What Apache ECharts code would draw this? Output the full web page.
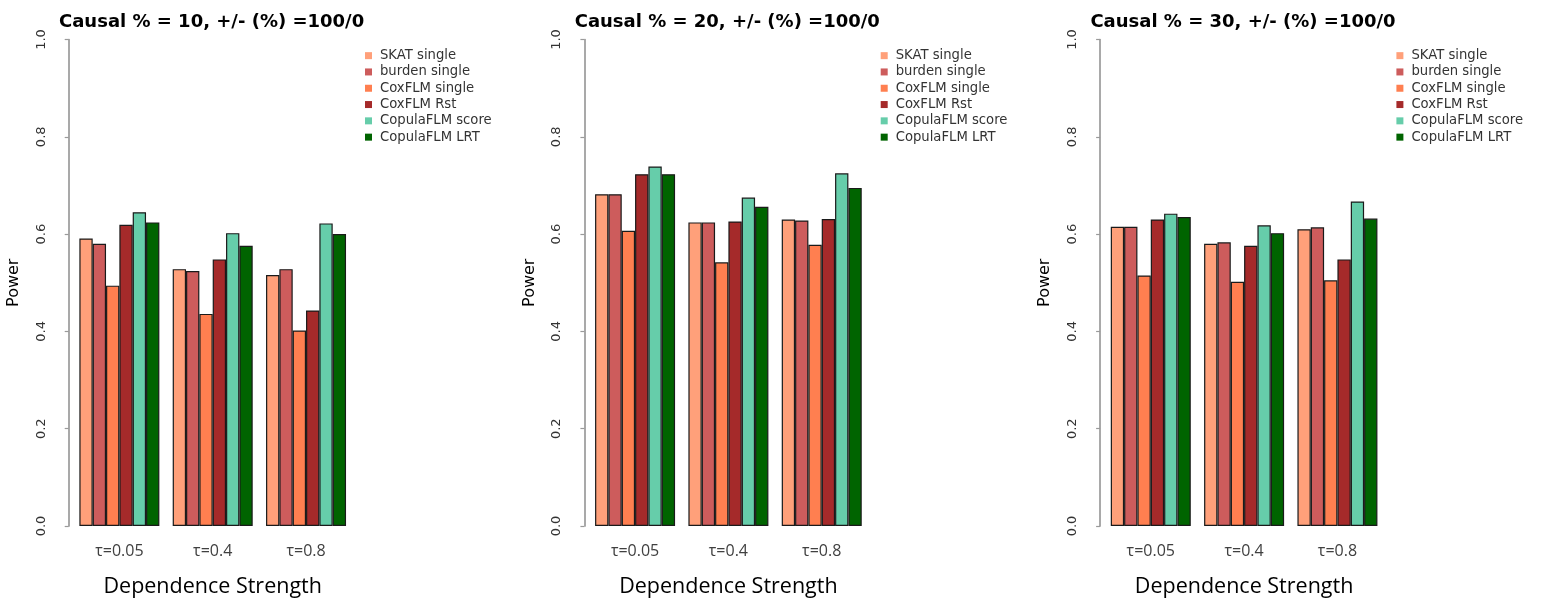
<!DOCTYPE html>
<html>
<head>
<meta charset="utf-8">
<script src="https://cdn.jsdelivr.net/npm/echarts@6/dist/echarts.min.js"></script>
<style>
  html, body { margin: 0; padding: 0; background: #fff; }
  #chart { width: 1543px; height: 604px; }
</style>
</head>
<body>
<div id="chart"></div>
<script>
// 数据
var methods = ['SKAT single', 'burden single', 'CoxFLM single', 'CoxFLM Rst', 'CopulaFLM score', 'CopulaFLM LRT'];
var colors = ['#FFA07A', '#CD5C5C', '#FF7F50', '#A52A2A', '#66CDAA', '#006400'];
var taus = ['τ=0.05', 'τ=0.4', 'τ=0.8'];
var causal = [10, 20, 30];
var yTicks = [0, 0.2, 0.4, 0.6, 0.8, 1.0];

// 每行一个方法, 三个值对应 taus
var power10 = [
    [0.591, 0.528, 0.516],
    [0.580, 0.524, 0.528],
    [0.494, 0.436, 0.402],
    [0.619, 0.548, 0.443],
    [0.645, 0.602, 0.622],
    [0.624, 0.576, 0.600]
];
var power20 = [
    [0.682, 0.624, 0.630],
    [0.682, 0.624, 0.628],
    [0.607, 0.542, 0.578],
    [0.723, 0.626, 0.631],
    [0.739, 0.675, 0.725],
    [0.723, 0.656, 0.695]
];
var power30 = [
    [0.615, 0.580, 0.610],
    [0.615, 0.583, 0.614],
    [0.515, 0.502, 0.505],
    [0.630, 0.576, 0.548],
    [0.642, 0.618, 0.667],
    [0.635, 0.602, 0.632]
];
var powers = [power10, power20, power30];

function drawPowerChart() {
    var dom = document.getElementById('chart');
    var myChart = echarts.init(dom, null, { renderer: 'canvas' });

    var step = 515.7;
    var grids = [], xAxes = [], yAxes = [], titles = [], legends = [], series = [];

    for (var p = 0; p < 3; p++) {
        grids.push({
            left: 72.7 + step * p,
            top: 39.5,
            width: 280,
            height: 486.5
        });
        titles.push({
            text: 'Causal % = ' + causal[p] + ', +/- (%) =100/0',
            left: 59 + step * p,
            top: 13,
            padding: 0,
            textStyle: {
                fontFamily: 'DejaVu Sans',
                fontWeight: 'bold',
                fontSize: 18,
                color: '#000'
            }
        });
        legends.push({
            data: methods,
            orient: 'vertical',
            left: 365 + step * p,
            top: 47.5,
            padding: 0,
            itemGap: 0,
            itemWidth: 7,
            itemHeight: 7,
            icon: 'rect',
            itemStyle: { borderWidth: 0 },
            textStyle: {
                fontFamily: 'DejaVu Sans',
                fontSize: 13.2,
                color: '#333',
                lineHeight: 16.3,
                padding: [0, 0, 0, 3]
            }
        });
        xAxes.push({
            type: 'category',
            gridIndex: p,
            data: taus,
            axisLine: { show: false },
            axisTick: { show: false },
            axisLabel: {
                margin: 17,
                fontFamily: 'Open Sans',
                fontSize: 16,
                color: '#404040'
            },
            name: 'Dependence Strength',
            nameLocation: 'middle',
            nameGap: 50,
            nameTextStyle: {
                fontFamily: 'Open Sans',
                fontSize: 21.5,
                color: '#000'
            }
        });
        yAxes.push({
            type: 'value',
            gridIndex: p,
            min: 0,
            max: 1,
            interval: 0.2,
            offset: 4,
            splitLine: { show: false },
            axisLine: { show: true, lineStyle: { color: '#9a9a9a', width: 1.7 } },
            axisTick: { show: true, length: 4, lineStyle: { color: '#9a9a9a', width: 1.2 } },
            axisLabel: {
                rotate: 90,
                margin: 21,
                fontFamily: 'DejaVu Sans',
                fontSize: 13,
                color: '#333',
                formatter: function (v) { return v.toFixed(1); }
            },
            name: 'Power',
            nameLocation: 'middle',
            nameGap: 47,
            nameTextStyle: {
                fontFamily: 'DejaVu Sans',
                fontSize: 16,
                color: '#000'
            }
        });
        for (var m = 0; m < methods.length; m++) {
            series.push({
                type: 'bar',
                name: methods[m],
                xAxisIndex: p,
                yAxisIndex: p,
                barGap: '0%',
                barCategoryGap: (100 / 7) + '%',
                data: powers[p][m],
                itemStyle: {
                    color: colors[m],
                    borderColor: '#1a1a1a',
                    borderWidth: 1.2
                },
                emphasis: { disabled: true }
            });
        }
    }

    var option = {
        backgroundColor: '#fff',
        animation: false,
        color: colors,
        title: titles,
        legend: legends,
        grid: grids,
        xAxis: xAxes,
        yAxis: yAxes,
        series: series
    };

    myChart.setOption(option);
    window.addEventListener('resize', myChart.resize);
}

drawPowerChart();
</script>
</body>
</html>
